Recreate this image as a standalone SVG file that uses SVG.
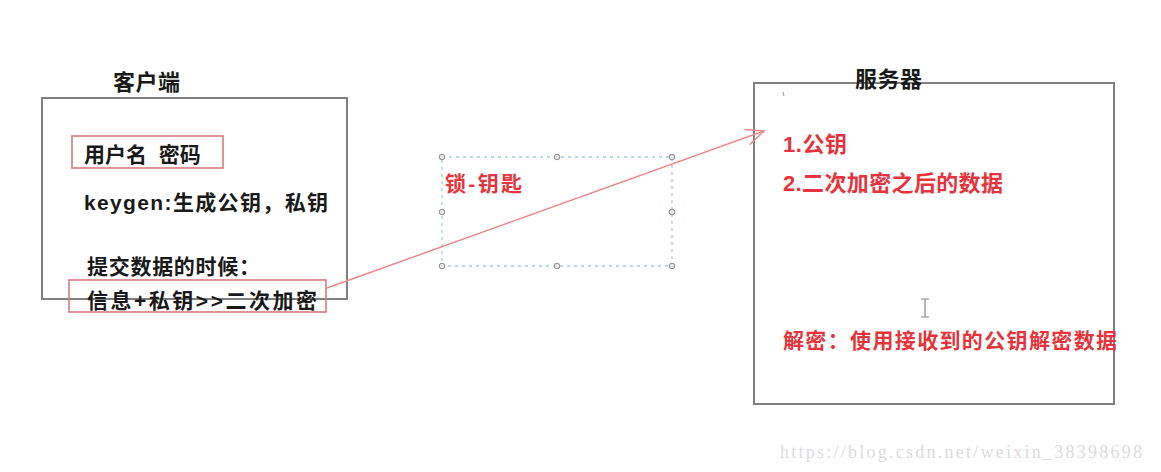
<svg xmlns="http://www.w3.org/2000/svg" width="1161" height="472" viewBox="0 0 1161 472">
<defs>
<style>
.box{fill:none;stroke:#808080;stroke-width:2}
.redbox{fill:none;stroke:#d97a7e;stroke-width:1.6}
.t{font-family:"Liberation Sans","Noto Sans CJK SC",sans-serif;font-weight:bold;fill:#1a1a1a}
.r{font-family:"Liberation Sans","Noto Sans CJK SC",sans-serif;font-weight:bold;fill:#e5343b}
.h{fill:#e6e6e6;stroke:#8a8a8a;stroke-width:1}
.wm{font-family:"Liberation Serif",serif;fill:#dcdcdc;font-size:18px}
</style>
<marker id="arr" viewBox="0 0 20 20" refX="19" refY="10" markerWidth="20" markerHeight="20" markerUnits="userSpaceOnUse" orient="auto">
<path d="M1,2 L19,10 L1,18" fill="none" stroke="#e8898c" stroke-width="1.5"/>
</marker>
</defs>
<rect width="1161" height="472" fill="#ffffff"/>

<g id="client">
<rect class="box" x="42" y="98" width="305" height="201"/>
<text class="t" x="113" y="90" font-size="22" textLength="67">客户端</text>
<rect class="redbox" x="72" y="136" width="151" height="32"/>
<text class="t" x="84" y="162" font-size="21" xml:space="preserve">用户名  密码</text>
<text class="t" x="84" y="210" font-size="21" textLength="244">keygen:生成公钥，私钥</text>
<text class="t" x="87" y="274" font-size="21" textLength="173">提交数据的时候：</text>
<rect class="redbox" x="69" y="280" width="257" height="32"/>
<text class="t" x="87" y="308" font-size="21" textLength="230">信息+私钥&gt;&gt;二次加密</text>
</g>

<g id="selection">
<rect x="442" y="157" width="230" height="109" fill="none" stroke="#a9c8ea" stroke-width="1.3" stroke-dasharray="3,4"/>
<circle class="h" cx="442" cy="157" r="2.8"/>
<circle class="h" cx="557" cy="157" r="2.8"/>
<circle class="h" cx="672" cy="157" r="2.8"/>
<circle class="h" cx="442" cy="212" r="2.8"/>
<circle class="h" cx="672" cy="212" r="2.8"/>
<circle class="h" cx="442" cy="266" r="2.8"/>
<circle class="h" cx="557" cy="266" r="2.8"/>
<circle class="h" cx="672" cy="266" r="2.8"/>
<text class="r" x="445" y="191" font-size="21" textLength="77">锁-钥匙</text>
</g>

<g id="server">
<rect class="box" x="754" y="83" width="360" height="321"/>
<text class="t" x="855" y="87" font-size="22" textLength="67">服务器</text>
<line x1="783" y1="92" x2="784" y2="96" stroke="#999" stroke-width="1"/>
<text class="r" x="783" y="152" font-size="22" textLength="64">1.公钥</text>
<text class="r" x="783" y="191" font-size="22" textLength="220">2.二次加密之后的数据</text>
<text class="r" x="783" y="348" font-size="21" textLength="334">解密：使用接收到的公钥解密数据</text>
<path d="M921,299 H929 M925,299 V317 M921,317 H929" stroke="#888" stroke-width="1.2" fill="none"/>
</g>

<g id="connectors">
<line x1="327" y1="288" x2="764" y2="131" stroke="#e8898c" stroke-width="1.5" marker-end="url(#arr)"/>
</g>

<text class="wm" x="780" y="458" textLength="362">https://blog.csdn.net/weixin_38398698</text>
</svg>
